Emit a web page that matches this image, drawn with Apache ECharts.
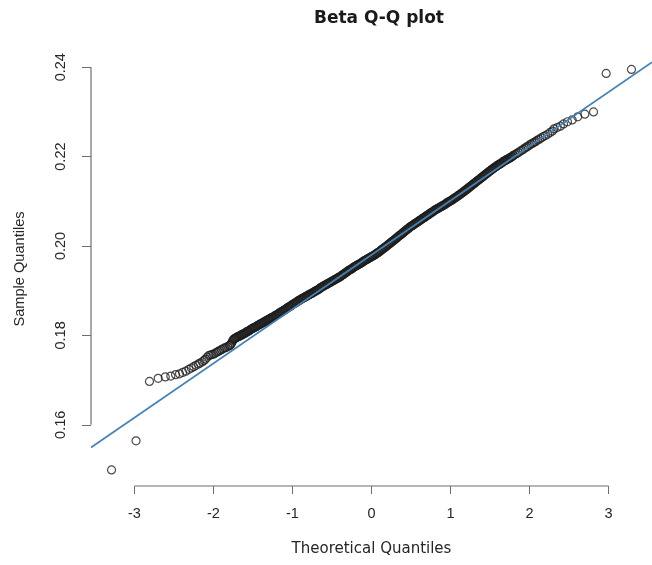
<!DOCTYPE html>
<html>
<head>
<meta charset="utf-8">
<title>Beta Q-Q plot</title>
<script src="https://cdn.jsdelivr.net/npm/echarts@6/dist/echarts.min.js"></script>
<style>
  html, body { margin: 0; padding: 0; background: #ffffff; }
  #chart { width: 652px; height: 565px; }
</style>
</head>
<body>
<div id="chart"></div>
<script>
// Normal Q-Q plot of the beta sample: [theoretical quantile, sample quantile]
const lowerTail = [
  [-3.29,0.1499],[-2.98,0.1564],[-2.81,0.1697],[-2.70,0.1704],[-2.61,0.1707],[-2.54,0.1709],
  [-2.48,0.1712],[-2.43,0.1714],[-2.39,0.1717],[-2.35,0.1720],[-2.31,0.1724],[-2.28,0.1727],
  [-2.25,0.1730],[-2.22,0.1733],[-2.19,0.1736],[-2.17,0.1738],[-2.14,0.1741],[-2.12,0.1744],
  [-2.10,0.1747],[-2.08,0.1751],[-2.06,0.1755],[-2.04,0.1756],[-2.02,0.1757],[-2.00,0.1758],
  [-1.98,0.1760],[-1.96,0.1762],[-1.94,0.1764],[-1.92,0.1766],[-1.90,0.1768],[-1.88,0.1770],
  [-1.86,0.1772],[-1.84,0.1773],[-1.82,0.1775],[-1.80,0.1777],[-1.79,0.1778],[-1.78,0.1780],
  [-1.77,0.1783],[-1.76,0.1787],[-1.75,0.1790],[-1.74,0.1792],[-1.73,0.1793],[-1.72,0.1794],
  [-1.71,0.1795]
];

const bodyLow = [
  [-1.70,0.1796],[-1.69,0.1797],[-1.68,0.1798],[-1.67,0.1798],[-1.66,0.1800],[-1.65,0.1801],[-1.64,0.1801],[-1.63,0.1802],[-1.62,0.1804],[-1.61,0.1804],
  [-1.60,0.1805],[-1.59,0.1806],[-1.58,0.1808],[-1.57,0.1809],[-1.56,0.1809],[-1.55,0.1810],[-1.54,0.1812],[-1.53,0.1813],[-1.52,0.1814],[-1.51,0.1815],
  [-1.50,0.1816],[-1.49,0.1817],[-1.48,0.1818],[-1.47,0.1818],[-1.46,0.1820],[-1.45,0.1821],[-1.44,0.1822],[-1.43,0.1823],[-1.42,0.1824],[-1.41,0.1825],
  [-1.40,0.1826],[-1.39,0.1827],[-1.38,0.1828],[-1.37,0.1829],[-1.36,0.1830],[-1.35,0.1830],[-1.34,0.1832],[-1.33,0.1833],[-1.32,0.1834],[-1.31,0.1835],
  [-1.30,0.1836],[-1.29,0.1837],[-1.28,0.1838],[-1.27,0.1839],[-1.26,0.1840],[-1.25,0.1841],[-1.24,0.1841],[-1.23,0.1843],[-1.22,0.1844],[-1.21,0.1845],
  [-1.20,0.1846],[-1.19,0.1847],[-1.18,0.1848],[-1.17,0.1849],[-1.16,0.1851],[-1.15,0.1852],[-1.14,0.1852],[-1.13,0.1854],[-1.12,0.1855],[-1.11,0.1856],
  [-1.10,0.1857],[-1.09,0.1858],[-1.08,0.1859],[-1.07,0.1861],[-1.06,0.1862],[-1.05,0.1863],[-1.04,0.1864],[-1.03,0.1865],[-1.02,0.1866],[-1.01,0.1868],
  [-1.00,0.1869],[-0.99,0.1870],[-0.98,0.1871],[-0.97,0.1872],[-0.96,0.1873],[-0.95,0.1874],[-0.94,0.1876],[-0.93,0.1877],[-0.92,0.1877],[-0.91,0.1879],
  [-0.90,0.1880],[-0.89,0.1881],[-0.88,0.1882],[-0.87,0.1883],[-0.86,0.1884],[-0.85,0.1885],[-0.84,0.1886],[-0.83,0.1887],[-0.82,0.1888],[-0.81,0.1889],
  [-0.80,0.1890],[-0.79,0.1891],[-0.78,0.1892],[-0.77,0.1893],[-0.76,0.1894],[-0.75,0.1894],[-0.74,0.1896],[-0.73,0.1897],[-0.72,0.1898],[-0.71,0.1899],
  [-0.70,0.1900],[-0.69,0.1901],[-0.68,0.1902],[-0.67,0.1903],[-0.66,0.1904],[-0.65,0.1906],[-0.64,0.1907],[-0.63,0.1908],[-0.62,0.1909],[-0.61,0.1910],
  [-0.60,0.1911],[-0.59,0.1912],[-0.58,0.1913],[-0.57,0.1914],[-0.56,0.1915],[-0.55,0.1916],[-0.54,0.1917],[-0.53,0.1918],[-0.52,0.1919],[-0.51,0.1920],
  [-0.50,0.1921],[-0.49,0.1922],[-0.48,0.1923],[-0.47,0.1924],[-0.46,0.1925],[-0.45,0.1926],[-0.44,0.1927],[-0.43,0.1928],[-0.42,0.1929],[-0.41,0.1930],
  [-0.40,0.1931],[-0.39,0.1932],[-0.38,0.1934],[-0.37,0.1935],[-0.36,0.1936],[-0.35,0.1937],[-0.34,0.1939],[-0.33,0.1940],[-0.32,0.1941],[-0.31,0.1942],
  [-0.30,0.1944],[-0.29,0.1945],[-0.28,0.1946],[-0.27,0.1947],[-0.26,0.1948],[-0.25,0.1949],[-0.24,0.1950],[-0.23,0.1952],[-0.22,0.1953],[-0.21,0.1954],
  [-0.20,0.1955],[-0.19,0.1956],[-0.18,0.1957],[-0.17,0.1958],[-0.16,0.1959],[-0.15,0.1960],[-0.14,0.1961],[-0.13,0.1962],[-0.12,0.1963],[-0.11,0.1965],
  [-0.10,0.1966],[-0.09,0.1967],[-0.08,0.1968],[-0.07,0.1969],[-0.06,0.1970],[-0.05,0.1971],[-0.04,0.1972],[-0.03,0.1973],[-0.02,0.1974],[-0.01,0.1975]
];

const bodyHigh = [
  [0.00,0.1976],[0.01,0.1977],[0.02,0.1978],[0.03,0.1979],[0.04,0.1980],[0.05,0.1981],[0.06,0.1983],[0.07,0.1984],[0.08,0.1985],[0.09,0.1986],
  [0.10,0.1987],[0.11,0.1989],[0.12,0.1990],[0.13,0.1992],[0.14,0.1993],[0.15,0.1994],[0.16,0.1996],[0.17,0.1997],[0.18,0.1998],[0.19,0.2000],
  [0.20,0.2001],[0.21,0.2003],[0.22,0.2004],[0.23,0.2005],[0.24,0.2007],[0.25,0.2008],[0.26,0.2010],[0.27,0.2011],[0.28,0.2012],[0.29,0.2014],
  [0.30,0.2015],[0.31,0.2017],[0.32,0.2018],[0.33,0.2020],[0.34,0.2021],[0.35,0.2023],[0.36,0.2024],[0.37,0.2025],[0.38,0.2027],[0.39,0.2028],
  [0.40,0.2030],[0.41,0.2031],[0.42,0.2033],[0.43,0.2034],[0.44,0.2036],[0.45,0.2037],[0.46,0.2038],[0.47,0.2040],[0.48,0.2041],[0.49,0.2043],
  [0.50,0.2044],[0.51,0.2045],[0.52,0.2046],[0.53,0.2047],[0.54,0.2049],[0.55,0.2050],[0.56,0.2051],[0.57,0.2052],[0.58,0.2053],[0.59,0.2055],
  [0.60,0.2056],[0.61,0.2057],[0.62,0.2058],[0.63,0.2059],[0.64,0.2061],[0.65,0.2062],[0.66,0.2063],[0.67,0.2064],[0.68,0.2065],[0.69,0.2067],
  [0.70,0.2068],[0.71,0.2069],[0.72,0.2070],[0.73,0.2071],[0.74,0.2073],[0.75,0.2074],[0.76,0.2075],[0.77,0.2076],[0.78,0.2077],[0.79,0.2079],
  [0.80,0.2080],[0.81,0.2081],[0.82,0.2082],[0.83,0.2083],[0.84,0.2084],[0.85,0.2085],[0.86,0.2086],[0.87,0.2087],[0.88,0.2088],[0.89,0.2089],
  [0.90,0.2090],[0.91,0.2091],[0.92,0.2092],[0.93,0.2093],[0.94,0.2094],[0.95,0.2096],[0.96,0.2097],[0.97,0.2098],[0.98,0.2099],[0.99,0.2100],
  [1.00,0.2101],[1.01,0.2102],[1.02,0.2103],[1.03,0.2104],[1.04,0.2106],[1.05,0.2107],[1.06,0.2108],[1.07,0.2109],[1.08,0.2110],[1.09,0.2112],
  [1.10,0.2113],[1.11,0.2114],[1.12,0.2115],[1.13,0.2117],[1.14,0.2118],[1.15,0.2119],[1.16,0.2121],[1.17,0.2122],[1.18,0.2123],[1.19,0.2125],
  [1.20,0.2126],[1.21,0.2127],[1.22,0.2129],[1.23,0.2130],[1.24,0.2132],[1.25,0.2133],[1.26,0.2134],[1.27,0.2136],[1.28,0.2137],[1.29,0.2139],
  [1.30,0.2140],[1.31,0.2141],[1.32,0.2143],[1.33,0.2144],[1.34,0.2146],[1.35,0.2147],[1.36,0.2148],[1.37,0.2150],[1.38,0.2151],[1.39,0.2153],
  [1.40,0.2154],[1.41,0.2155],[1.42,0.2157],[1.43,0.2158],[1.44,0.2160],[1.45,0.2161],[1.46,0.2162],[1.47,0.2164],[1.48,0.2165],[1.49,0.2167],
  [1.50,0.2168],[1.51,0.2169],[1.52,0.2171],[1.53,0.2172],[1.54,0.2173],[1.55,0.2175],[1.56,0.2176],[1.57,0.2177],[1.58,0.2178],[1.59,0.2180],
  [1.60,0.2181],[1.61,0.2182],[1.62,0.2183],[1.63,0.2184],[1.64,0.2185],[1.65,0.2186],[1.66,0.2188],[1.67,0.2189],[1.68,0.2190],[1.69,0.2191],
  [1.70,0.2192],[1.71,0.2193],[1.72,0.2194],[1.73,0.2195],[1.74,0.2196],[1.75,0.2197],[1.76,0.2198],[1.77,0.2199],[1.78,0.2200],[1.79,0.2202],
  [1.80,0.2203]
];

const upperTail = [
  [1.82,0.2205],[1.84,0.2207],[1.86,0.2209],[1.88,0.2212],[1.90,0.2214],[1.92,0.2216],
  [1.94,0.2219],[1.96,0.2221],[1.98,0.2223],[2.00,0.2226],[2.02,0.2228],[2.04,0.2230],
  [2.06,0.2232],[2.08,0.2234],[2.10,0.2237],[2.125,0.2239],[2.15,0.2242],[2.175,0.2245],
  [2.20,0.2247],[2.23,0.2250],[2.26,0.2254],[2.29,0.2257],[2.31,0.2262],[2.35,0.2265],
  [2.39,0.2268],[2.43,0.2273],[2.48,0.2278],[2.54,0.2282],[2.61,0.2289],[2.70,0.2295],
  [2.81,0.2300],[2.97,0.2386],[3.29,0.2395]
];

// Reference line through the quartiles (qqline): sample = intercept + slope * theoretical
const qqIntercept = 0.1980;
const qqSlope = 0.01214;

// Axis ranges and tick labels
const xRange = [-3.55, 3.55];
const yRange = [0.1463, 0.2434];
const xTicks = [-3, -2, -1, 0, 1, 2, 3];
const yTicks = [0.16, 0.18, 0.20, 0.22, 0.24];

const points = lowerTail.concat(bodyLow, bodyHigh, upperTail);
const refLine = xRange.map(x => [x, qqIntercept + qqSlope * x]);

const axisGray = '#6e6e6e';
const textColor = '#262626';

const chart = echarts.init(document.getElementById('chart'), null, { renderer: 'canvas' });
chart.setOption({
  animation: false,
  backgroundColor: '#ffffff',
  title: {
    text: 'Beta Q-Q plot',
    left: 374,
    textAlign: 'center',
    top: 5,
    textStyle: { fontFamily: 'DejaVu Sans', fontWeight: 'bold', fontSize: 17, color: '#1a1a1a' }
  },
  grid: { left: 91, top: 52, width: 566, height: 434, containLabel: false },
  xAxis: {
    type: 'value',
    min: xRange[0],
    max: xRange[1],
    name: 'Theoretical Quantiles',
    nameLocation: 'middle',
    nameGap: 56,
    nameTextStyle: { fontFamily: 'DejaVu Sans', fontSize: 15, color: textColor },
    axisLine: { show: false, onZero: false },
    axisTick: { show: true, customValues: xTicks, length: 8, lineStyle: { color: axisGray, width: 1 } },
    axisLabel: {
      customValues: xTicks,
      margin: 20,
      fontFamily: 'Liberation Sans', fontSize: 14.5, color: textColor
    },
    splitLine: { show: false }
  },
  yAxis: {
    type: 'value',
    min: yRange[0],
    max: yRange[1],
    name: 'Sample Quantiles',
    nameLocation: 'middle',
    nameGap: 64,
    nameTextStyle: { fontFamily: 'Liberation Sans', fontSize: 14.6, color: textColor },
    axisLine: { show: false, onZero: false },
    axisTick: { show: true, customValues: yTicks, length: 9, lineStyle: { color: axisGray, width: 1 } },
    axisLabel: {
      customValues: yTicks,
      rotate: 90,
      margin: 23,
      formatter: v => v.toFixed(2),
      fontFamily: 'Liberation Sans', fontSize: 14.5, color: textColor
    },
    splitLine: { show: false }
  },
  series: [
    {
      // x axis line, spanning the outer tick marks only
      type: 'line',
      silent: true,
      clip: false,
      symbol: 'none',
      data: [[xTicks[0], yRange[0]], [xTicks[xTicks.length - 1], yRange[0]]],
      lineStyle: { color: axisGray, width: 1.2 },
      z: 1
    },
    {
      // y axis line, spanning the outer tick marks only
      type: 'line',
      silent: true,
      clip: false,
      symbol: 'none',
      data: [[xRange[0], yTicks[0]], [xRange[0], yTicks[yTicks.length - 1]]],
      lineStyle: { color: axisGray, width: 1.2 },
      z: 1
    },
    {
      name: 'Sample',
      type: 'scatter',
      data: points,
      symbol: 'circle',
      symbolSize: 8,
      itemStyle: { color: 'rgba(0,0,0,0)', borderColor: '#1e1e1e', borderWidth: 1.2 },
      emphasis: { disabled: true },
      z: 2
    },
    {
      name: 'qqline',
      type: 'line',
      data: refLine,
      symbol: 'none',
      lineStyle: { color: '#4682B4', width: 1.7 },
      z: 3
    }
  ]
});
</script>
</body>
</html>
